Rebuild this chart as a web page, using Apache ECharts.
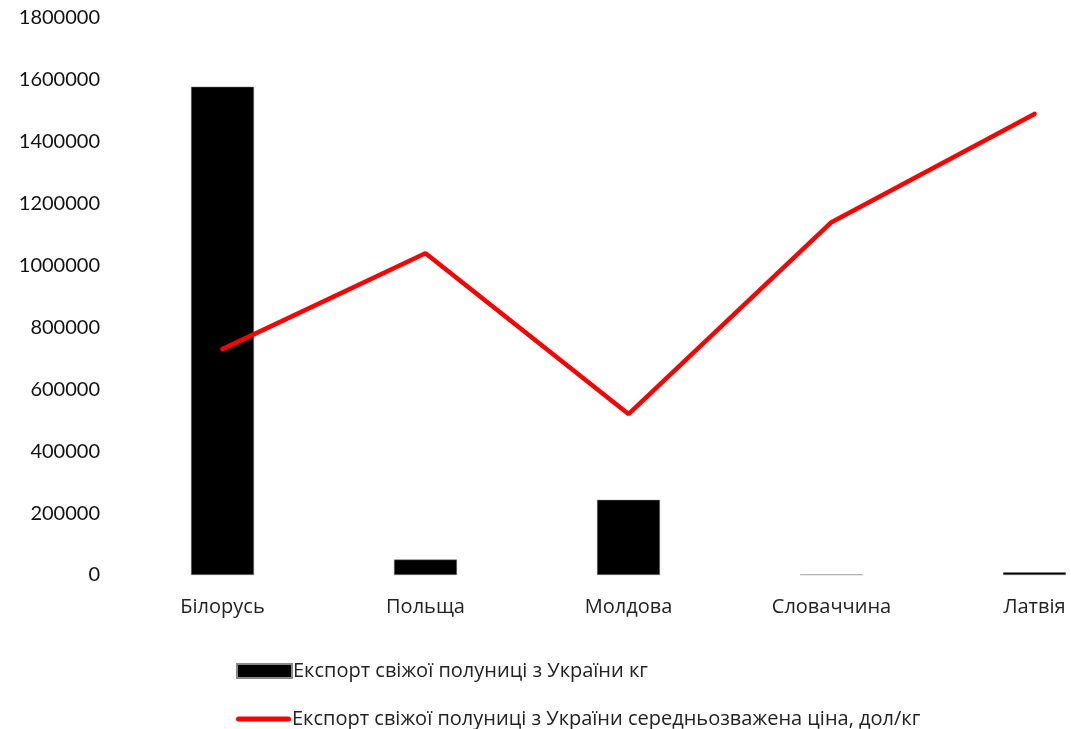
<!DOCTYPE html>
<html><head><meta charset="utf-8">
<script src="https://cdn.jsdelivr.net/npm/echarts@6/dist/echarts.min.js"></script>
<style>html,body{margin:0;padding:0;background:#fff}#c{width:1071px;height:729px}</style>
</head><body><div id="c"></div>
<script>
const categories = ['Білорусь','Польща','Молдова','Словаччина','Латвія'];
const exportKg = [1578000, 50000, 243000, 2000, 9000];
const priceUsdKg = [0.73, 1.04, 0.52, 1.14, 1.49];
const seriesNames = ['Експорт свіжої полуниці з України кг','Експорт свіжої полуниці з України середньозважена ціна, дол/кг'];

const legendText = {fontFamily:'Open Sans', fontSize:20, lineHeight:20, color:'#222', padding:[0,0,0,-4]};
const chart = echarts.init(document.getElementById('c'));
chart.setOption({
  animation:false,
  backgroundColor:'#fff',
  textStyle:{fontFamily:'Lato'},
  grid:{left:121, width:1015, top:18, bottom:154, outerBoundsMode:'none', containLabel:false},
  legend:[{
    orient:'vertical', left:231, top:656, itemWidth:55, itemHeight:14,
    textStyle:legendText,
    data:[{name:seriesNames[0], icon:'rect'}]
  },{
    orient:'vertical', left:231, top:704, itemWidth:55, itemHeight:14,
    symbolKeepAspect:true,
    textStyle:legendText,
    data:[{name:seriesNames[1], icon:'path://M2.5,0H52.5A2.5,2.5,0,0,1,52.5,5H2.5A2.5,2.5,0,0,1,2.5,0Z'}]
  }],
  xAxis:{type:'category', data:categories,
    axisLine:{show:false}, axisTick:{show:false},
    axisLabel:{fontFamily:'Open Sans', fontSize:20, color:'#222', margin:22}},
  yAxis:[{type:'value', min:0, max:1800000, interval:200000,
    splitLine:{show:false}, axisLine:{show:false}, axisTick:{show:false},
    axisLabel:{fontFamily:'Lato', fontSize:20, color:'#111', margin:21, formatter:function(v){return String(v);}}},
    {type:'value', min:0, max:1.8, show:false, splitLine:{show:false}}],
  series:[
    {name:seriesNames[0], type:'bar', data:exportKg, barWidth:63,
      itemStyle:{color:'#000', borderColor:'#888', borderWidth:0.5}},
    {name:seriesNames[1], type:'line', yAxisIndex:1, data:priceUsdKg, showSymbol:false, symbol:'none',
      lineStyle:{color:'#ff0000', width:4.5, cap:'round'}, itemStyle:{color:'#ff0000'}}
  ]
});
</script></body></html>
